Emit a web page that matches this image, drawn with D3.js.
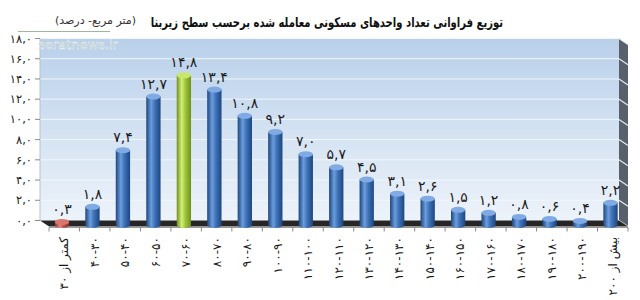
<!DOCTYPE html>
<html><head><meta charset="utf-8">
<script src="https://cdn.jsdelivr.net/npm/d3@7"></script>
<style>body{margin:0;background:#fff}svg{display:block}</style>
</head><body>
<svg id="c" width="640" height="300"></svg>
<script>
const categories = ["کمتر از ۳۰","۴۰-۳۰","۵۰-۴۰","۶۰-۵۰","۷۰-۶۰","۸۰-۷۰","۹۰-۸۰","۱۰۰-۹۰","۱۱۰-۱۰۰","۱۲۰-۱۱۰","۱۳۰-۱۲۰","۱۴۰-۱۳۰","۱۵۰-۱۴۰","۱۶۰-۱۵۰","۱۷۰-۱۶۰","۱۸۰-۱۷۰","۱۹۰-۱۸۰","۲۰۰-۱۹۰","بیش از ۲۰۰"];
const values = [0.3,1.8,7.4,12.7,14.8,13.4,10.8,9.2,7.0,5.7,4.5,3.1,2.6,1.5,1.2,0.8,0.6,0.4,2.2];
const yTicks = [0,2,4,6,8,10,12,14,16,18];
const title = "توزیع فراوانی تعداد واحدهای مسکونی معامله شده برحسب سطح زیربنا";
const unitLabel = "(متر مربع- درصد)";
const watermark = "seratnews.ir";

const fa = s => String(s).replace(/[0-9]/g, d => "۰۱۲۳۴۵۶۷۸۹"[d]).replace(".", ",");
const svg = d3.select("#c");
const font = "'DejaVu Sans', sans-serif";

const y = d3.scaleLinear().domain([0, 18]).range([220.5, 38.5]);
const x = d3.scaleBand().domain(categories).range([40, 619]);
const dx = 9, dy = 6, bd = 0.75;
const bw = x.bandwidth();

const defs = svg.append("defs");
const wall = defs.append("linearGradient").attr("id","wall").attr("x1",0).attr("y1",0).attr("x2",0).attr("y2",1);
wall.append("stop").attr("offset","0%").attr("stop-color","#b9d0ea");
wall.append("stop").attr("offset","100%").attr("stop-color","#edf3fa");
function cyl(id, c0, c1, c2) {
  const g = defs.append("linearGradient").attr("id", id).attr("x1",0).attr("y1",0).attr("x2",1).attr("y2",0);
  g.append("stop").attr("offset","0%").attr("stop-color", c0);
  g.append("stop").attr("offset","35%").attr("stop-color", c1);
  g.append("stop").attr("offset","60%").attr("stop-color", c2);
  g.append("stop").attr("offset","100%").attr("stop-color", c0);
}
cyl("blue", "#1d467f", "#6c9ddd", "#3e72b8");
cyl("green", "#6f8f1e", "#d5ef7a", "#9dc73a");
cyl("red", "#8e2a26", "#e58a84", "#c0504d");
const capColor = {blue:"#80aae3", green:"#c9e66b", red:"#d9746f"};

// back wall
svg.append("rect").attr("x", 40).attr("y", y(18)).attr("width", 579).attr("height", y(0) - y(18))
  .attr("fill", "url(#wall)");
svg.append("g").selectAll("line").data(yTicks.filter(t => t > 0)).join("line")
  .attr("x1", 40).attr("x2", 619).attr("y1", d => y(d)).attr("y2", d => y(d))
  .attr("stroke", "#f2f6fb").attr("stroke-width", 1);

// side wall
const side = svg.append("g");
side.append("path").attr("d", `M619,${y(18)}L${619+dx},${y(18)+dy}L${619+dx},${y(0)+dy}L619,${y(0)}Z`)
  .attr("fill", "#58616b");
side.selectAll("line").data(yTicks).join("line")
  .attr("x1", 619).attr("x2", 619 + dx).attr("y1", d => y(d)).attr("y2", d => y(d) + dy)
  .attr("stroke", "#e8ecef").attr("stroke-width", 1.2);

// floor
svg.append("path").attr("d", `M40,${y(0)}L619,${y(0)}L${619+dx},${y(0)+dy}L${40+dx},${y(0)+dy}Z`)
  .attr("fill", "#262626");
svg.append("line").attr("x1", 40 + dx).attr("x2", 619 + dx).attr("y1", y(0) + dy + 1).attr("y2", y(0) + dy + 1)
  .attr("stroke", "#9a9a9a");

// y axis
svg.append("line").attr("x1", 40).attr("x2", 40).attr("y1", y(18)).attr("y2", y(0)).attr("stroke", "#b8c2cc");
svg.append("g").selectAll("line").data(yTicks).join("line")
  .attr("x1", 35).attr("x2", 40).attr("y1", d => y(d)).attr("y2", d => y(d)).attr("stroke", "#8a8a8a");
svg.append("g").selectAll("text").data(yTicks).join("text")
  .attr("x", 32).attr("y", d => y(d) + 4).attr("text-anchor", "end")
  .attr("font-family", font).attr("font-size", 11.5).attr("fill", "#222")
  .text(d => fa(d.toFixed(1)));

// x ticks
const tickXs = categories.map(c => x(c) + dx).concat([619 + dx]);
svg.append("g").selectAll("line").data(tickXs).join("line")
  .attr("x1", d => d).attr("x2", d => d).attr("y1", y(0) + dy + 1).attr("y2", y(0) + dy + 5)
  .attr("stroke", "#888");

// bars
const yb = v => y(v) + bd * dy;
const cx = c => x(c) + bw / 2 + bd * dx;
const rw = bw * 0.235, ry = 3;
const kind = i => i === 0 ? "red" : i === 4 ? "green" : "blue";
const bars = svg.append("g").selectAll("g").data(values).join("g");
bars.append("path").attr("d", (v, i) => {
  const c = cx(categories[i]), top = yb(v), base = yb(0);
  return `M${c - rw},${top}L${c - rw},${base}A${rw},${ry} 0 0 0 ${c + rw},${base}L${c + rw},${top}Z`;
}).attr("fill", (v, i) => `url(#${kind(i)})`);
bars.append("ellipse").attr("cx", (v, i) => cx(categories[i])).attr("cy", v => yb(v))
  .attr("rx", rw).attr("ry", ry).attr("fill", (v, i) => capColor[kind(i)]);

// value labels
svg.append("g").selectAll("text").data(values).join("text")
  .attr("x", (v, i) => cx(categories[i])).attr("y", v => yb(v) - 8)
  .attr("text-anchor", "middle").attr("font-family", font).attr("font-size", 14).attr("fill", "#1a1a1a")
  .text(v => fa(v.toFixed(1)));

// x labels
svg.append("g").selectAll("text").data(categories).join("text")
  .attr("transform", c => `translate(${x(c) + bw / 2 + dx + 4},237) rotate(-90)`)
  .attr("text-anchor", "end").attr("font-family", font).attr("font-size", 12).attr("fill", "#1a1a1a")
  .text(c => c);

// title
const tg = svg.append("g").attr("transform", "translate(503,27) scale(1,1.35)");
const t = tg.append("text").attr("x", 0).attr("y", 0).attr("text-anchor", "start").attr("direction", "rtl")
  .attr("font-family", font).attr("font-weight", "bold").attr("font-size", 15).attr("fill", "#111").text(title);
const tl = t.node().getComputedTextLength();
t.attr("font-size", 15 * 352 / tl);
svg.append("text").attr("x", 136).attr("y", 24).attr("text-anchor", "start").attr("direction", "rtl")
  .attr("font-family", font).attr("font-size", 11).attr("fill", "#333").text(unitLabel);

// watermark
svg.append("line").attr("x1", 18).attr("x2", 110).attr("y1", 31.5).attr("y2", 31.5).attr("stroke", "#9fb59f").attr("stroke-width", 1);
svg.append("text").attr("x", 38).attr("y", 49).attr("font-family", "'DejaVu Sans', sans-serif").attr("font-size", 13)
  .attr("fill", "#a9bcb0").attr("stroke", "#ffffff").attr("stroke-width", 0.4).attr("opacity", 0.9).text(watermark);
</script>
</body></html>
